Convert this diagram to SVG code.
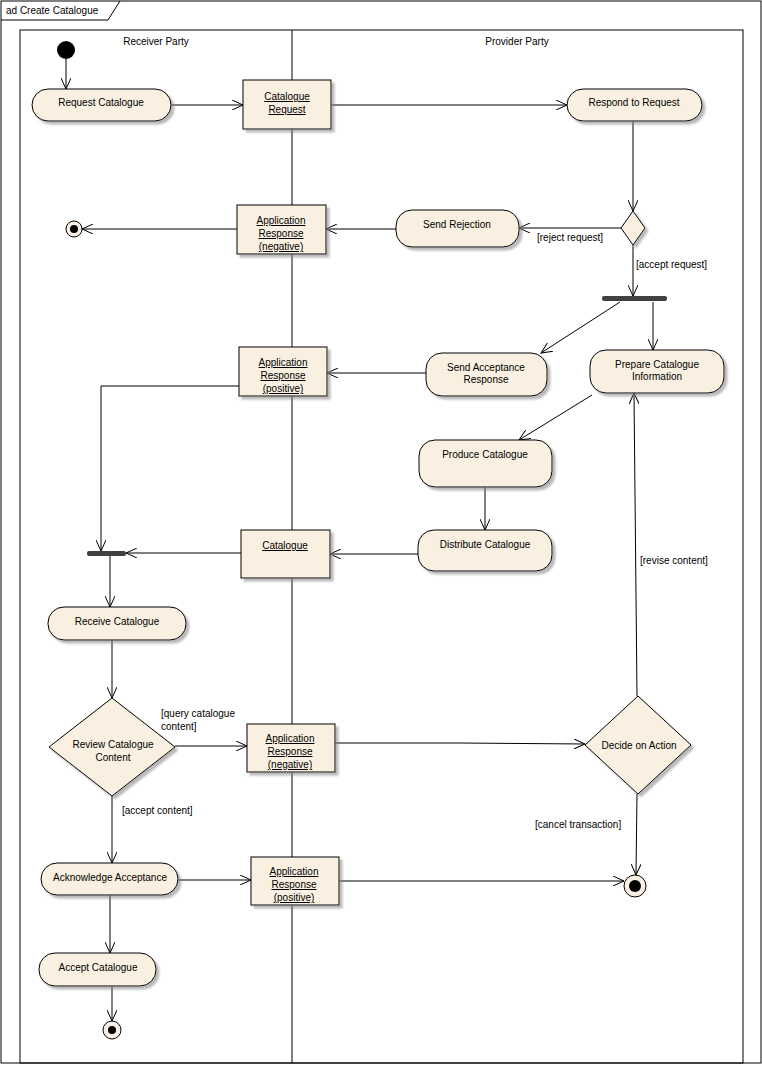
<svg xmlns="http://www.w3.org/2000/svg" width="762" height="1065" viewBox="0 0 762 1065">
<style>
text{font-family:"Liberation Sans",Arial,sans-serif;font-size:10px;fill:#000}
.c{text-anchor:middle}
.u{text-decoration:underline}
.n{fill:#faf0e1;stroke:#000;stroke-width:1;filter:url(#sh)}
.l{fill:none;stroke:#000;stroke-width:1;marker-end:url(#a)}
</style>
<defs>
<filter id="sh" x="-10%" y="-10%" width="130%" height="140%"><feDropShadow dx="3" dy="3" stdDeviation="1" flood-color="#888" flood-opacity="0.6"/></filter>
<marker id="a" viewBox="0 0 12 10" refX="11" refY="5" markerWidth="12" markerHeight="10" markerUnits="userSpaceOnUse" orient="auto"><path d="M0,0 L11,5 L0,10" fill="none" stroke="#000"/></marker>
</defs>
<rect width="762" height="1065" fill="#fff"/>
<rect x="1" y="1" width="760" height="1062" fill="none" stroke="#000"/>
<path d="M1,20 H108 L120,1" fill="none" stroke="#000"/>
<text x="6" y="14">ad Create Catalogue</text>
<g id="lanes">
<rect x="20" y="30" width="723" height="1033" fill="none" stroke="#000"/>
<line x1="292" y1="30" x2="292" y2="1063" stroke="#000"/>
<text class="c" x="156" y="45">Receiver Party</text>
<text class="c" x="517" y="45">Provider Party</text>
</g>
<g id="connectors">
<path class="l" d="M66,59 V89"/>
<path class="l" d="M171,105 H243"/>
<path class="l" d="M331,105 H567"/>
<path class="l" d="M633,121 V211"/>
<path class="l" d="M621,228 H519"/>
<path class="l" d="M633,245 V296"/>
<path class="l" d="M396,229 H326"/>
<path class="l" d="M237,229 H82"/>
<path class="l" d="M620,302 L541,353"/>
<path class="l" d="M653,302 V350"/>
<path class="l" d="M426,373 H327"/>
<path class="l" d="M239,386 H101 V551"/>
<path class="l" d="M592,395 L519,440"/>
<path class="l" d="M485,487 V530"/>
<path class="l" d="M418,554 H330"/>
<path class="l" d="M241,553 H126"/>
<path class="l" d="M110,556 V607"/>
<path class="l" d="M112,640 V698"/>
<path class="l" d="M175,746 H247"/>
<path class="l" d="M335,743 H460 L585,744"/>
<path class="l" d="M112,796 V863"/>
<path class="l" d="M637,696 L634,393"/>
<path class="l" d="M637,794 L636,875"/>
<path class="l" d="M178,880 H251"/>
<path class="l" d="M339,881 H624"/>
<path class="l" d="M110,895 V953"/>
<path class="l" d="M112,986 V1021"/>
<text x="537" y="241">[reject request]</text>
<text x="636" y="268">[accept request]</text>
<text x="161" y="717">[query catalogue</text>
<text x="161" y="730">content]</text>
<text x="122" y="814">[accept content]</text>
<text x="640" y="564">[revise content]</text>
<text x="535" y="828">[cancel transaction]</text>
</g>
<g id="start"><circle cx="66" cy="50" r="9" fill="#000"/></g>
<g id="requestCatalogue"><rect class="n" x="32" y="89" width="139" height="32" rx="16"/><text class="c" x="101" y="106">Request Catalogue</text></g>
<g id="catalogueRequest"><rect class="n" x="243" y="80" width="88" height="49"/><text class="c u" x="287" y="100">Catalogue</text><text class="c u" x="287" y="113">Request</text></g>
<g id="respond"><rect class="n" x="567" y="89" width="135" height="32" rx="16"/><text class="c" x="634" y="106">Respond to Request</text></g>
<g id="decision1"><path class="n" d="M633,211 L645,228 L633,245 L621,228 Z"/></g>
<g id="sendRejection"><rect class="n" x="396" y="210" width="123" height="37" rx="16"/><text class="c" x="457" y="228">Send Rejection</text></g>
<g id="appRespNeg1"><rect class="n" x="237" y="205" width="89" height="49"/><text class="c u" x="281" y="224">Application</text><text class="c u" x="281" y="237">Response</text><text class="c u" x="281" y="250">(negative)</text></g>
<g id="final1"><circle cx="74" cy="229" r="8" fill="#faf0e1" stroke="#000"/><circle cx="74" cy="229" r="4" fill="#000"/></g>
<g id="fork"><rect x="602" y="296" width="65" height="5" rx="2" fill="#404040"/></g>
<g id="sendAcceptance"><rect class="n" x="426" y="353" width="121" height="43" rx="16"/><text class="c" x="486" y="371">Send Acceptance</text><text class="c" x="486" y="383">Response</text></g>
<g id="prepare"><rect class="n" x="590" y="350" width="134" height="43" rx="16"/><text class="c" x="657" y="368">Prepare Catalogue</text><text class="c" x="657" y="380">Information</text></g>
<g id="appRespPos1"><rect class="n" x="239" y="347" width="88" height="49"/><text class="c u" x="283" y="366">Application</text><text class="c u" x="283" y="379">Response</text><text class="c u" x="283" y="392">(positive)</text></g>
<g id="produce"><rect class="n" x="419" y="440" width="133" height="47" rx="16"/><text class="c" x="485" y="458">Produce Catalogue</text></g>
<g id="distribute"><rect class="n" x="418" y="530" width="134" height="41" rx="16"/><text class="c" x="485" y="548">Distribute Catalogue</text></g>
<g id="catalogue"><rect class="n" x="241" y="530" width="89" height="48"/><text class="c u" x="285" y="549">Catalogue</text></g>
<g id="join"><rect x="87" y="551" width="39" height="5" rx="2" fill="#404040"/></g>
<g id="receive"><rect class="n" x="48" y="607" width="138" height="33" rx="16"/><text class="c" x="117" y="625">Receive Catalogue</text></g>
<g id="review"><path class="n" d="M112,698 L175,747 L112,796 L49,747 Z"/><text class="c" x="113" y="748">Review Catalogue</text><text class="c" x="113" y="761">Content</text></g>
<g id="appRespNeg2"><rect class="n" x="247" y="724" width="88" height="48"/><text class="c u" x="290" y="742">Application</text><text class="c u" x="290" y="755">Response</text><text class="c u" x="290" y="768">(negative)</text></g>
<g id="decide"><path class="n" d="M638,696 L691,745 L638,794 L585,745 Z"/><text class="c" x="639" y="749">Decide on Action</text></g>
<g id="ack"><rect class="n" x="41" y="863" width="137" height="32" rx="16"/><text class="c" x="110" y="881">Acknowledge Acceptance</text></g>
<g id="appRespPos2"><rect class="n" x="251" y="857" width="88" height="48"/><text class="c u" x="294" y="875">Application</text><text class="c u" x="294" y="888">Response</text><text class="c u" x="294" y="901">(positive)</text></g>
<g id="final2"><circle cx="635" cy="886" r="11" fill="#faf0e1" stroke="#000"/><circle cx="635" cy="886" r="6" fill="#000"/></g>
<g id="accept"><rect class="n" x="39" y="953" width="117" height="33" rx="16"/><text class="c" x="98" y="971">Accept Catalogue</text></g>
<g id="final3"><circle cx="112" cy="1030" r="9" fill="#faf0e1" stroke="#000"/><circle cx="112" cy="1030" r="4" fill="#000"/></g>
</svg>
